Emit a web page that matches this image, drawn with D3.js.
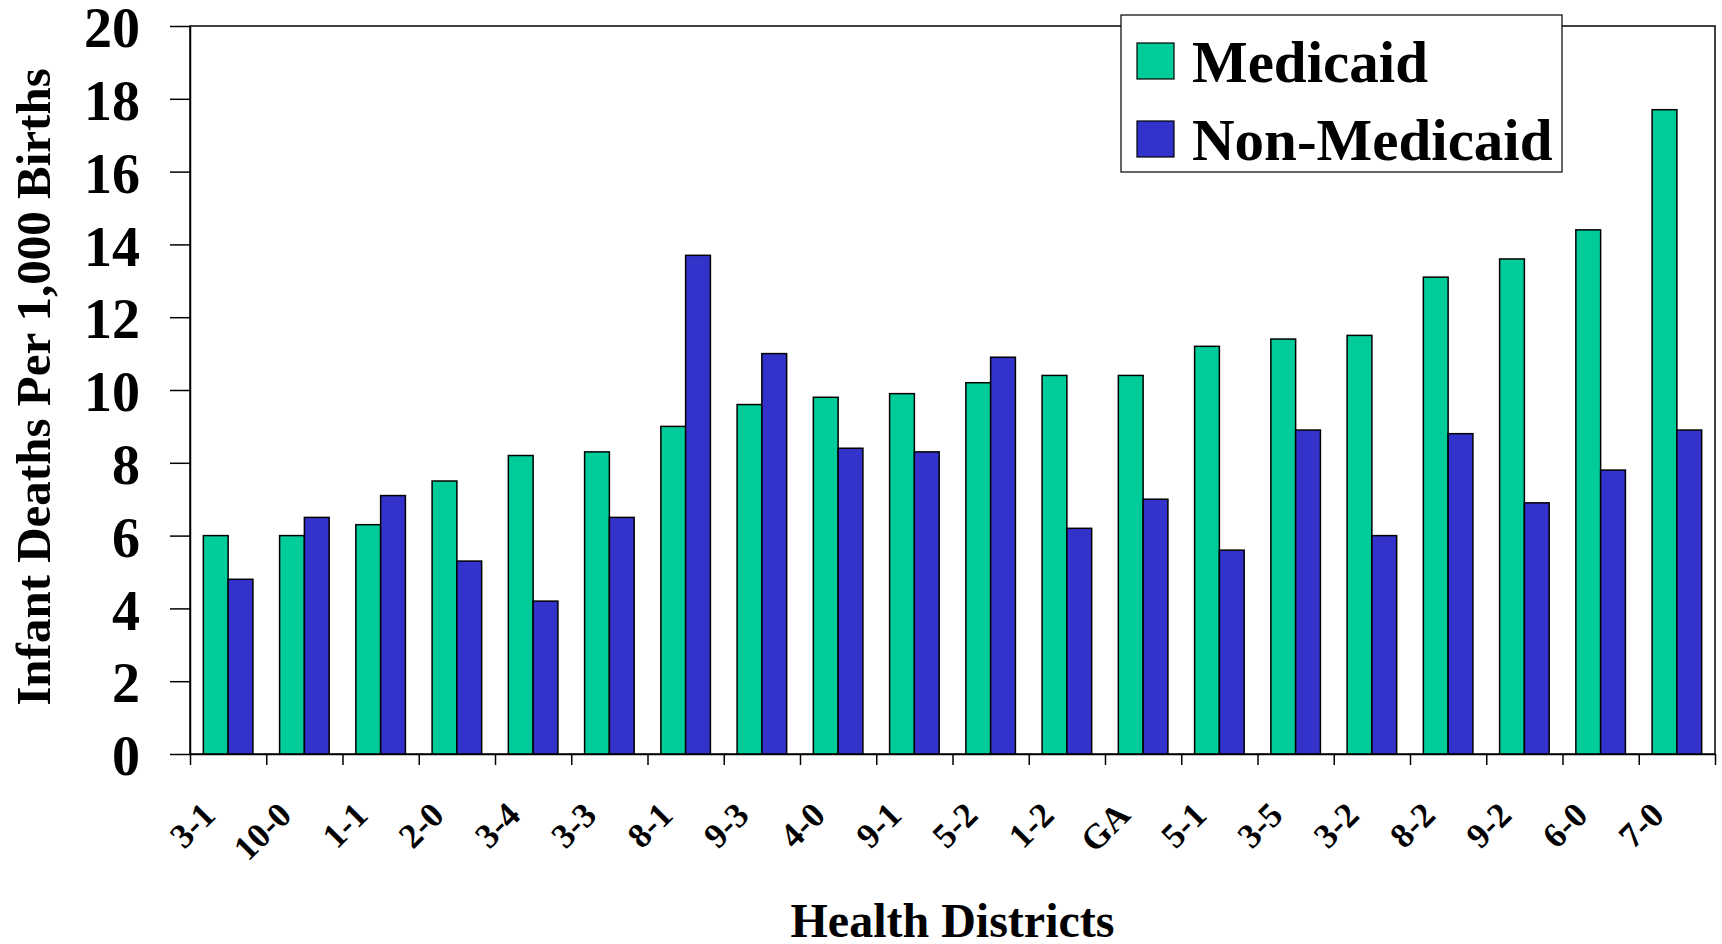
<!DOCTYPE html>
<html>
<head>
<meta charset="utf-8">
<script src="https://cdnjs.cloudflare.com/ajax/libs/d3/7.8.5/d3.min.js"></script>
<style>
    body { margin: 0; background: #fff; }
    svg text { font-family: "Liberation Serif", "Times New Roman", serif; font-weight: bold; fill: #000; }
</style>
</head>
<body>
<svg id="chart" width="1722" height="944"></svg>
<script>
    // data
    var districts = ["3-1", "10-0", "1-1", "2-0", "3-4", "3-3", "8-1", "9-3", "4-0", "9-1",
                     "5-2", "1-2", "GA", "5-1", "3-5", "3-2", "8-2", "9-2", "6-0", "7-0"];
    var medicaid    = [6.0, 6.0, 6.3, 7.5, 8.2, 8.3, 9.0, 9.6, 9.8, 9.9,
                       10.2, 10.4, 10.4, 11.2, 11.4, 11.5, 13.1, 13.6, 14.4, 17.7];
    var nonMedicaid = [4.8, 6.5, 7.1, 5.3, 4.2, 6.5, 13.7, 11.0, 8.4, 8.3,
                       10.9, 6.2, 7.0, 5.6, 8.9, 6.0, 8.8, 6.9, 7.8, 8.9];
    var seriesNames = ["Medicaid", "Non-Medicaid"];
    var seriesColors = ["#00CC99", "#3333CC"];
    var yTicks = [0, 2, 4, 6, 8, 10, 12, 14, 16, 18, 20];

    var svg = d3.select("#chart"),
        plotLeft = 190, plotRight = 1715, plotTop = 26, plotBottom = 754;

    var rows = districts.map(function (d, i) {
        return { district: d, values: [medicaid[i], nonMedicaid[i]] };
    });

    var x0 = d3.scaleBand().domain(districts).range([plotLeft, plotRight])
            .paddingInner(0.35).paddingOuter(0.175),
        x1 = d3.scaleBand().domain(seriesNames).range([0, x0.bandwidth()]),
        xEdge = d3.scaleLinear().domain([0, districts.length]).range([plotLeft, plotRight]),
        y = d3.scaleLinear().domain([0, 20]).range([plotBottom, plotTop]),
        color = d3.scaleOrdinal().domain(seriesNames).range(seriesColors);

    // plot frame (top and right edges)
    svg.append("rect")
        .attr("x", plotLeft).attr("y", plotTop)
        .attr("width", plotRight - plotLeft).attr("height", plotBottom - plotTop)
        .attr("fill", "none").attr("stroke", "#000").attr("stroke-width", 1.5);

    // bars
    svg.append("g").selectAll("g")
        .data(rows).join("g")
        .attr("transform", function (d) { return "translate(" + x0(d.district) + ",0)"; })
        .selectAll("rect")
        .data(function (d) {
            return d.values.map(function (v, k) { return { key: seriesNames[k], value: v }; });
        })
        .join("rect")
        .attr("x", function (d) { return x1(d.key); })
        .attr("y", function (d) { return y(d.value); })
        .attr("width", x1.bandwidth())
        .attr("height", function (d) { return plotBottom - y(d.value); })
        .attr("fill", function (d) { return color(d.key); })
        .attr("stroke", "#000").attr("stroke-width", 1.5);

    // y axis
    var yAxis = svg.append("g")
        .attr("transform", "translate(" + plotLeft + ",0)")
        .call(d3.axisLeft(y).tickValues(yTicks).tickSize(20).tickSizeOuter(0).tickPadding(30));
    yAxis.selectAll("line, path").attr("stroke", "#000").attr("stroke-width", 1.5);
    yAxis.selectAll("text").attr("font-size", 56).attr("dy", "0.37em");

    // x axis: ticks on category edges
    var xAxis = svg.append("g")
        .attr("transform", "translate(0," + plotBottom + ")")
        .call(d3.axisBottom(xEdge).ticks(districts.length).tickSize(11).tickSizeOuter(0).tickFormat(""));
    xAxis.selectAll("line, path").attr("stroke", "#000").attr("stroke-width", 1.5);

    // rotated category labels
    svg.append("g").selectAll("text")
        .data(districts).join("text")
        .attr("transform", function (d) {
            return "translate(" + (x0(d) + x0.bandwidth() / 2 - 11) + "," + (plotBottom + 63) + ") rotate(-45)";
        })
        .attr("text-anchor", "end")
        .attr("font-size", 35)
        .text(function (d) { return d; });

    // axis titles
    svg.append("text")
        .attr("transform", "translate(" + 50 + "," + 387 + ") rotate(-90)")
        .attr("text-anchor", "middle")
        .attr("font-size", 49)
        .text("Infant Deaths Per 1,000 Births");

    svg.append("text")
        .attr("x", (plotLeft + plotRight) / 2).attr("y", 937)
        .attr("text-anchor", "middle")
        .attr("font-size", 48)
        .text("Health Districts");

    // legend
    var legend = svg.append("g").attr("transform", "translate(1121,15)");
    legend.append("rect")
        .attr("width", 441).attr("height", 157)
        .attr("fill", "#fff").attr("stroke", "#000").attr("stroke-width", 1.2);
    var item = legend.selectAll("g.item")
        .data(seriesNames).join("g")
        .attr("class", "item")
        .attr("transform", function (d, i) { return "translate(16," + (28 + i * 78) + ")"; });
    item.append("rect")
        .attr("width", 37).attr("height", 36)
        .attr("fill", function (d) { return color(d); })
        .attr("stroke", "#000").attr("stroke-width", 1.2);
    item.append("text")
        .attr("x", 55).attr("y", 39)
        .attr("font-size", 59)
        .text(function (d) { return d; });
</script>
</body>
</html>
